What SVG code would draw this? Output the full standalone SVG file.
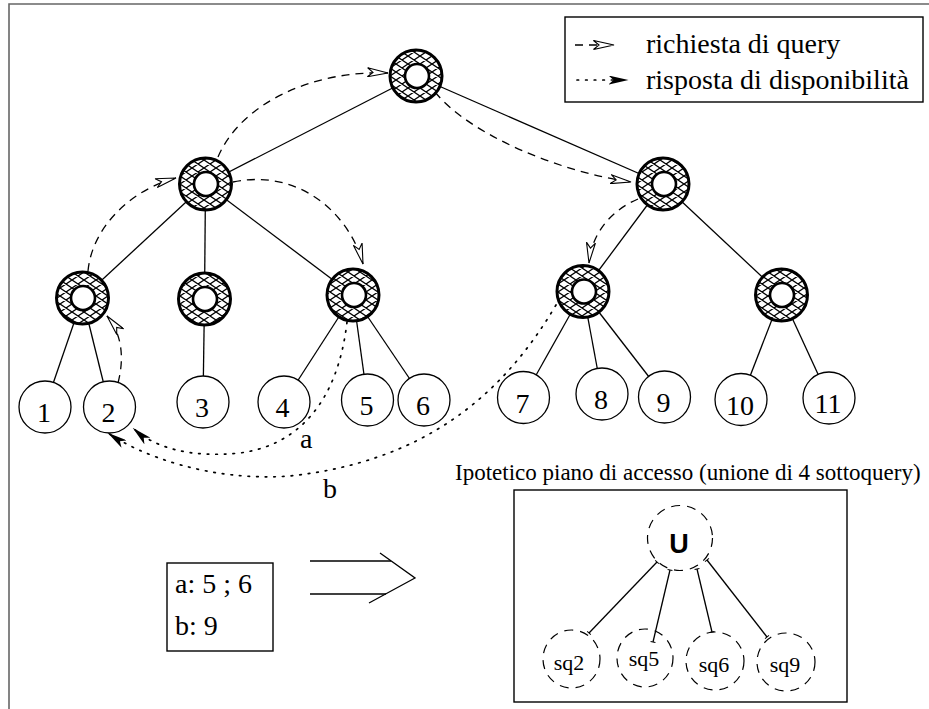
<svg xmlns="http://www.w3.org/2000/svg" width="929" height="709" viewBox="0 0 929 709">
  <style>
    .edge { stroke: #000; stroke-width: 1.3; fill: none; }
    .query { stroke: #000; stroke-width: 1.3; fill: none; stroke-dasharray: 8 6; }
    .reply { stroke: #000; stroke-width: 1.7; fill: none; stroke-dasharray: 1.6 7; stroke-linecap: round; }
    .leaf circle { fill: #fff; stroke: #000; stroke-width: 1.3; }
    .leaf text, .lbl { font-family: "Liberation Serif", "DejaVu Serif", "Times New Roman", serif; fill: #000; }
    .leaf text { font-size: 28px; text-anchor: middle; }
    .ring { fill: url(#hatch); stroke: #000; stroke-width: 3; }
    .hole { fill: #fff; stroke: #000; stroke-width: 2.6; }
    .plan { fill: none; stroke: #000; stroke-width: 1.2; stroke-dasharray: 9 7; }
    .box { fill: #fff; stroke: #000; stroke-width: 1.4; }
  </style>
  <defs>
    <pattern id="hatch" patternUnits="userSpaceOnUse" width="12" height="8">
      <rect width="12" height="8" fill="#fff"/>
      <path d="M0,0 L12,8 M0,8 L12,0 M-1,7.3 L1,8.7 M11,-0.7 L13,0.7" stroke="#000" stroke-width="1.3"/>
    </pattern>
    <marker id="open" viewBox="0 0 22 10" refX="21" refY="5" markerWidth="22" markerHeight="10" markerUnits="userSpaceOnUse" orient="auto">
      <path d="M0.5,0.5 L21,5 L0.5,9.5 L6,5 Z" fill="#fff" stroke="#000" stroke-width="1.1"/>
    </marker>
    <marker id="solid" viewBox="0 0 20 9" refX="19.5" refY="4.5" markerWidth="20" markerHeight="9" markerUnits="userSpaceOnUse" orient="auto">
      <path d="M0,0 L20,4.5 L0,9 L5,4.5 Z" fill="#000"/>
    </marker>
    <marker id="tick" viewBox="-3 -3 6 6" refX="0" refY="0" markerWidth="6" markerHeight="6" markerUnits="userSpaceOnUse" orient="auto">
      <path d="M0,-2.5 L0,2.5" stroke="#000" stroke-width="1"/>
    </marker>
  </defs>

  <!-- page frame -->
  <path d="M9,709 L9,4 L929,4" fill="none" stroke="#666" stroke-width="1.6"/>

  <!-- tree edges -->
  <g id="tree-edges" class="edge">
    <line x1="416" y1="76" x2="205.5" y2="184"/>
    <line x1="416" y1="76" x2="663" y2="184"/>
    <line x1="205.5" y1="184" x2="82.5" y2="298"/>
    <line x1="205.5" y1="184" x2="204.5" y2="299"/>
    <line x1="205.5" y1="184" x2="353" y2="295"/>
    <line x1="663" y1="184" x2="583" y2="291.5"/>
    <line x1="663" y1="184" x2="781.5" y2="295"/>
    <line x1="82.5" y1="298" x2="45" y2="407"/>
    <line x1="82.5" y1="298" x2="109.5" y2="407"/>
    <line x1="204.5" y1="299" x2="203" y2="402"/>
    <line x1="353" y1="295" x2="284" y2="402"/>
    <line x1="353" y1="295" x2="367.5" y2="400"/>
    <line x1="353" y1="295" x2="424" y2="400"/>
    <line x1="583" y1="291.5" x2="523.5" y2="397.5"/>
    <line x1="583" y1="291.5" x2="602" y2="394"/>
    <line x1="583" y1="291.5" x2="664.5" y2="397"/>
    <line x1="781.5" y1="295" x2="741" y2="399.5"/>
    <line x1="781.5" y1="295" x2="829" y2="398"/>
  </g>

  <!-- super-peers -->
  <g id="sp-root"><circle class="ring" cx="416" cy="76" r="26"/><circle class="hole" cx="417" cy="76" r="12"/></g>
  <g id="sp-a"><circle class="ring" cx="205.5" cy="184" r="26"/><circle class="hole" cx="206" cy="184" r="12"/></g>
  <g id="sp-b"><circle class="ring" cx="663" cy="184" r="26"/><circle class="hole" cx="664" cy="184" r="12"/></g>
  <g id="sp-a1"><circle class="ring" cx="82.5" cy="298" r="26"/><circle class="hole" cx="83" cy="298" r="12"/></g>
  <g id="sp-a2"><circle class="ring" cx="204.5" cy="299" r="26"/><circle class="hole" cx="205" cy="299" r="12"/></g>
  <g id="sp-a3"><circle class="ring" cx="353" cy="295" r="26"/><circle class="hole" cx="354" cy="295" r="12"/></g>
  <g id="sp-b1"><circle class="ring" cx="583" cy="291.5" r="26"/><circle class="hole" cx="584" cy="291.5" r="12"/></g>
  <g id="sp-b2"><circle class="ring" cx="781.5" cy="295" r="26"/><circle class="hole" cx="782" cy="295" r="12"/></g>

  <!-- peers -->
  <g id="peer-1" class="leaf"><circle cx="45" cy="407" r="26"/><text x="44" y="422">1</text></g>
  <g id="peer-2" class="leaf"><circle cx="109.5" cy="407" r="26"/><text x="108.5" y="422">2</text></g>
  <g id="peer-3" class="leaf"><circle cx="203" cy="402" r="26"/><text x="202" y="417">3</text></g>
  <g id="peer-4" class="leaf"><circle cx="284" cy="402" r="26"/><text x="282.5" y="417">4</text></g>
  <g id="peer-5" class="leaf"><circle cx="367.5" cy="400" r="26"/><text x="366.5" y="415">5</text></g>
  <g id="peer-6" class="leaf"><circle cx="424" cy="400" r="26"/><text x="423" y="415">6</text></g>
  <g id="peer-7" class="leaf"><circle cx="523.5" cy="397.5" r="26"/><text x="522.5" y="413">7</text></g>
  <g id="peer-8" class="leaf"><circle cx="602" cy="394" r="26"/><text x="601" y="409">8</text></g>
  <g id="peer-9" class="leaf"><circle cx="664.5" cy="397" r="26"/><text x="663.5" y="412">9</text></g>
  <g id="peer-10" class="leaf"><circle cx="741" cy="399.5" r="26"/><text x="740" y="415">10</text></g>
  <g id="peer-11" class="leaf"><circle cx="829" cy="398" r="26"/><text x="828" y="413">11</text></g>

  <!-- query forwarding and availability replies -->
  <g id="messages">
    <path class="query" marker-end="url(#open)" d="M118,383 C124,360 123,335 107,316"/>
    <path class="query" marker-end="url(#open)" d="M88,271 C92,228 130,190 176,178"/>
    <path class="query" marker-end="url(#open)" d="M218,157 C240,105 310,70 388,73"/>
    <path class="query" marker-end="url(#open)" d="M233,182 C300,168 350,215 363,264"/>
    <path class="query" marker-end="url(#open)" d="M435,92 C470,135 560,172 631,182"/>
    <path class="query" marker-end="url(#open)" d="M638,199 C612,210 592,232 589,263"/>
    <path class="reply" marker-end="url(#solid)" d="M347,322 C338,400 300,445 240,453 C190,458 155,448 133,428"/>
    <path class="reply" marker-end="url(#solid)" d="M556,305 C500,400 420,462 290,476 C210,482 140,455 108,433"/>
  </g>
  <text class="lbl" x="300" y="448" font-size="28">a</text>
  <text class="lbl" x="323" y="498" font-size="28">b</text>

  <!-- legend -->
  <g id="legend">
    <rect class="box" x="565" y="17" width="358" height="85"/>
    <line class="query" x1="575" y1="45" x2="614" y2="45" marker-end="url(#open)"/>
    <line class="reply" x1="577" y1="80" x2="628" y2="80" marker-end="url(#solid)"/>
    <text class="lbl" x="646" y="53" font-size="28">richiesta di query</text>
    <text class="lbl" x="646" y="89" font-size="28">risposta di disponibilità</text>
  </g>

  <!-- result lists -->
  <g id="results">
    <rect class="box" x="167" y="563" width="106" height="88"/>
    <text class="lbl" x="175" y="593" font-size="28">a: 5 ; 6</text>
    <text class="lbl" x="175" y="635" font-size="28">b: 9</text>
  </g>

  <!-- implication arrow -->
  <g id="implies" fill="none" stroke="#000" stroke-width="1.3">
    <line x1="310" y1="561" x2="391" y2="561"/>
    <line x1="310" y1="594" x2="386" y2="594"/>
    <polyline points="380,553 415,578 369,603"/>
  </g>

  <!-- access plan -->
  <text class="lbl" x="455" y="480" font-size="23">Ipotetico piano di accesso (unione di 4 sottoquery)</text>
  <g id="plan">
    <rect class="box" x="514" y="490" width="333" height="212"/>
    <g class="edge" marker-start="url(#tick)" marker-end="url(#tick)">
      <line x1="657" y1="562" x2="589" y2="633"/>
      <line x1="670" y1="570" x2="653" y2="642"/>
      <line x1="697" y1="569" x2="712" y2="632"/>
      <line x1="707" y1="560" x2="767" y2="637"/>
    </g>
    <g id="plan-union">
      <circle class="plan" cx="680" cy="538" r="32.5" fill="#fff"/>
      <text x="679" y="553" font-family="Liberation Sans, Arial, sans-serif" font-weight="bold" font-size="27" text-anchor="middle">U</text>
    </g>
    <g id="plan-sq2"><ellipse class="plan" cx="571.5" cy="659" rx="28.5" ry="29"/><text class="lbl" x="569" y="670" font-size="22" text-anchor="middle">sq2</text></g>
    <g id="plan-sq5"><ellipse class="plan" cx="645" cy="658" rx="28" ry="29"/><text class="lbl" x="644" y="666" font-size="22" text-anchor="middle">sq5</text></g>
    <g id="plan-sq6"><ellipse class="plan" cx="715" cy="661" rx="29" ry="29"/><text class="lbl" x="714" y="672" font-size="22" text-anchor="middle">sq6</text></g>
    <g id="plan-sq9"><ellipse class="plan" cx="786" cy="662" rx="29" ry="29"/><text class="lbl" x="785" y="672" font-size="22" text-anchor="middle">sq9</text></g>
  </g>
</svg>
